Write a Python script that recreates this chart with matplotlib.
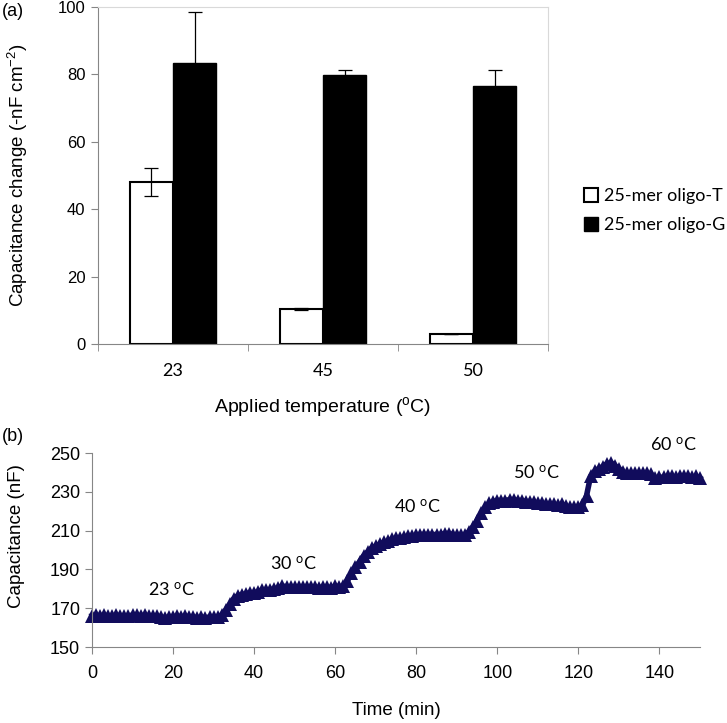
import numpy as np
import matplotlib
matplotlib.use("Agg")
import matplotlib.pyplot as plt

plt.rcParams['font.family'] = ['Liberation Sans', 'DejaVu Sans']
plt.rcParams['mathtext.fontset'] = 'custom'
plt.rcParams['mathtext.rm'] = 'Liberation Sans'
plt.rcParams['mathtext.it'] = 'Liberation Sans'

CALIBRI_LIKE = ['Lato', 'DejaVu Sans']
AXIS_GREY = '#868686'
FRAME_GREY = '#d9d9d9'
NAVY = '#110c5c'

# ---- panel (a) data ----
temperatures = ['23', '45', '50']
oligo_t = [48.0, 10.3, 3.0]
oligo_t_err = [4.2, 0.3, 0.0]
oligo_g = [83.5, 79.7, 76.7]
oligo_g_err = [15.0, 1.5, 4.5]

# ---- panel (b) data: one reading per minute ----
time_min = list(range(0, 151))
capacitance = [
    166, 166.5, 166, 166.5, 166, 166, 166.5, 166, 166, 166,
    166.5, 166.5, 166, 166.5, 166, 166, 166, 165.5, 165, 165.5,
    165.5, 166, 165.5, 166, 165.5, 165.5, 165, 165.5, 165, 165.5,
    165.5, 165.5, 166.5, 169, 172, 175, 176.5, 177, 177.5, 178,
    178, 178.5, 179.5, 179.5, 179.5, 180, 180.5, 181.5, 181, 181,
    181, 181, 181, 181, 181, 181, 180.5, 181, 181, 180.5,
    181.5, 181, 181.5, 184, 188, 191, 194, 197, 199, 201,
    202, 203, 204, 204.5, 205.5, 206, 206, 206.5, 207, 207,
    207.5, 208, 208, 208, 208, 208, 208, 208.5, 208.5, 208,
    207.5, 207.5, 207.5, 209.5, 212, 215, 219, 222, 224, 225,
    225.5, 225.5, 225.5, 226, 226, 225.5, 225.5, 225, 225, 224.5,
    224, 224, 223.5, 223.5, 223.5, 223, 223.5, 222.5, 222, 222,
    222, 223, 228, 238, 240.5, 242, 243, 244.5, 245, 243.5,
    242, 240, 239.5, 239.5, 239.5, 239.5, 239.5, 239.5, 239, 237,
    237.5, 237.5, 238, 238, 237.5, 238, 238, 238, 237.5, 238,
    237,
]
labels_b = ['23', '30', '40', '50', '60']
label_x = [19.7, 49.8, 80.4, 109.7, 143.5]
label_y = [179.5, 193, 222, 240, 254]

fig = plt.figure(figsize=(7.27, 7.23), dpi=100)

# ================= panel (a) =================
ax1 = fig.add_axes([0.1348, 0.5242, 0.6190, 0.4661])
x = np.arange(len(temperatures))
w = 0.287
ax1.bar(x - w / 2, oligo_t, w, color='white', edgecolor='black', linewidth=1.5,
        label='25-mer oligo-T', zorder=2)
ax1.bar(x + w / 2, oligo_g, w, color='black', edgecolor='black', linewidth=1.0,
        label='25-mer oligo-G', zorder=2)
ax1.errorbar(x - w / 2, oligo_t, yerr=oligo_t_err, fmt='none', ecolor='black',
             elinewidth=0.9, capsize=5, capthick=0.9, zorder=3)
ax1.errorbar(x + w / 2, oligo_g, yerr=oligo_g_err, fmt='none', ecolor='black',
             elinewidth=0.9, capsize=5, capthick=0.9, zorder=1)

ax1.set_xlim(-0.5, len(temperatures) - 0.5)
ax1.set_ylim(0, 100)
ax1.set_yticks([0, 20, 40, 60, 80, 100])
ax1.set_xticks(x)
ax1.set_xticklabels(temperatures, fontsize=13, family=CALIBRI_LIKE)
ax1.set_xticks(np.arange(-0.5, len(temperatures)), minor=True)
ax1.tick_params(axis='x', which='major', length=0, pad=14)
ax1.tick_params(axis='x', which='minor', length=5, direction='out', color=AXIS_GREY)
ax1.tick_params(axis='y', length=5, direction='out', color=AXIS_GREY, labelsize=12, pad=4)
for side in ['left', 'bottom']:
    ax1.spines[side].set_color(AXIS_GREY)
for side in ['top', 'right']:
    ax1.spines[side].set_color(FRAME_GREY)
ax1.set_ylabel('Capacitance change (-nF cm$^{-2}$)', fontsize=13.5)
ax1.yaxis.set_label_coords(-0.15, 0.5)
ax1.set_xlabel('Applied temperature ($^{o}$C)', fontsize=14, labelpad=11)
ax1.legend(loc='center left', bbox_to_anchor=(1.06, 0.396), frameon=False,
           prop={'family': CALIBRI_LIKE, 'size': 13}, handlelength=0.8,
           handleheight=0.8, handletextpad=0.3, labelspacing=0.7, borderpad=0)
fig.text(0.003, 0.978, '(a)', fontsize=13)

# ================= panel (b) =================
ax2 = fig.add_axes([0.1265, 0.1051, 0.8364, 0.2683])
ax2.plot(time_min, capacitance, linestyle='-', linewidth=4, marker='^',
         markersize=10, color=NAVY, markeredgewidth=0, clip_on=False)
ax2.set_xlim(0, 150)
ax2.set_ylim(150, 250)
ax2.set_xticks(range(0, 141, 20))
ax2.set_yticks(range(150, 251, 20))
ax2.tick_params(length=5, direction='out', color=AXIS_GREY, labelsize=13)
ax2.tick_params(axis='x', pad=8)
for side in ['top', 'right']:
    ax2.spines[side].set_visible(False)
for side in ['left', 'bottom']:
    ax2.spines[side].set_color(AXIS_GREY)
ax2.set_ylabel('Capacitance (nF)', fontsize=13.5)
ax2.yaxis.set_label_coords(-0.11, 0.57)
ax2.set_xlabel('Time (min)', fontsize=13.5, labelpad=14)
for lab, lx, ly in zip(labels_b, label_x, label_y):
    ax2.text(lx, ly, lab + r' $\mathregular{^{o}}$C', fontsize=13, family=CALIBRI_LIKE,
             ha='center', va='center', clip_on=False)
fig.text(0.003, 0.39, '(b)', fontsize=13)

fig.savefig('out.png', dpi=100)
